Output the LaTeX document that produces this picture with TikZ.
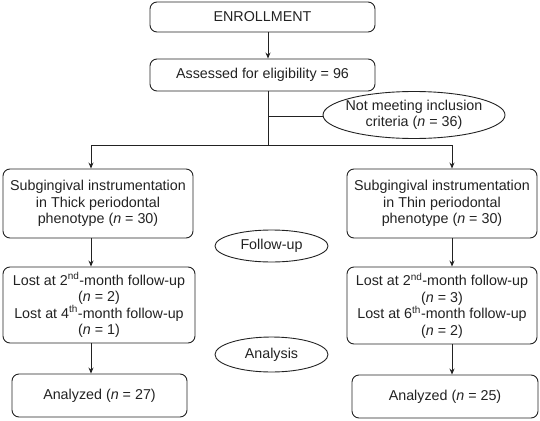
\documentclass[tikz,border=0pt]{standalone}
\usepackage{fontspec}
\setmainfont{Liberation Sans}
\usetikzlibrary{arrows.meta,shapes.geometric}
\definecolor{ink}{HTML}{222222}
\begin{document}
\begin{tikzpicture}[x=1pt,y=-1pt,
  every node/.style={font=\fontsize{14.3}{16.5}\selectfont, text=ink},
  rbox/.style={draw=ink, line width=0.9pt, rounded corners=7pt, align=center, inner sep=0pt},
  oval/.style={draw=ink, line width=0.9pt, ellipse, align=center, inner xsep=-16pt, inner ysep=-6pt},
  arr/.style={draw=ink, line width=0.9pt, -{Stealth[length=6pt,width=5pt]}},
  ln/.style={draw=ink, line width=0.9pt}]
\useasboundingbox (0,0) rectangle (540,420);
\node[rbox, minimum width=225pt, minimum height=30pt] (enroll) at (262.5,17) {ENROLLMENT};
\node[rbox, minimum width=225pt, minimum height=32pt] (assess) at (262.5,75) {Assessed for eligibility = 96};
\node[oval, minimum width=182pt, minimum height=47pt] (excl) at (414,115) {Not meeting inclusion\\criteria (\textit{n} = 36)};
\node[rbox, minimum width=190pt, minimum height=69pt] (sub1) at (98,203.5) {Subgingival instrumentation\\in Thick periodontal\\phenotype (\textit{n} = 30)};
\node[rbox, minimum width=190pt, minimum height=69pt] (sub2) at (442,203.5) {Subgingival instrumentation\\in Thin periodontal\\phenotype (\textit{n} = 30)};
\node[oval, minimum width=113pt, minimum height=32pt] (fu) at (271.5,246) {Follow-up};
\node[rbox, minimum width=192pt, minimum height=76pt] (lost1) at (99,305) {Lost at 2\textsuperscript{nd}-month follow-up\\(\textit{n} = 2)\\Lost at 4\textsuperscript{th}-month follow-up\\(\textit{n} = 1)};
\node[rbox, minimum width=190pt, minimum height=77pt] (lost2) at (442,305.5) {Lost at 2\textsuperscript{nd}-month follow-up\\(\textit{n} = 3)\\Lost at 6\textsuperscript{th}-month follow-up\\(\textit{n} = 2)};
\node[oval, minimum width=113pt, minimum height=35pt] (an) at (271.5,354.5) {Analysis};
\node[rbox, minimum width=175pt, minimum height=43pt] (ana1) at (99.5,395.5) {Analyzed (\textit{n} = 27)};
\node[rbox, minimum width=186pt, minimum height=43pt] (ana2) at (445,396.5) {Analyzed (\textit{n} = 25)};
\coordinate (c) at (268,145);
\coordinate (cl) at (91,145);
\coordinate (cr) at (452,145);
\coordinate (ce) at (268,116);
\draw[arr] (enroll.south -| c) -- (assess.north -| c);
\draw[ln] (assess.south -| c) -- (c);
\draw[ln] (ce) -- (ce -| excl.west);
\draw[ln] (cl) -- (cr);
\draw[arr] (cl) -- (cl |- sub1.north);
\draw[arr] (cr) -- (cr |- sub2.north);
\draw[arr] (sub1.south -| cl) -- (lost1.north -| cl);
\draw[arr] (sub2.south -| cr) -- (lost2.north -| cr);
\draw[arr] (lost1.south -| cl) -- (ana1.north -| cl);
\draw[arr] (lost2.south -| cr) -- (ana2.north -| cr);
\end{tikzpicture}
\end{document}
